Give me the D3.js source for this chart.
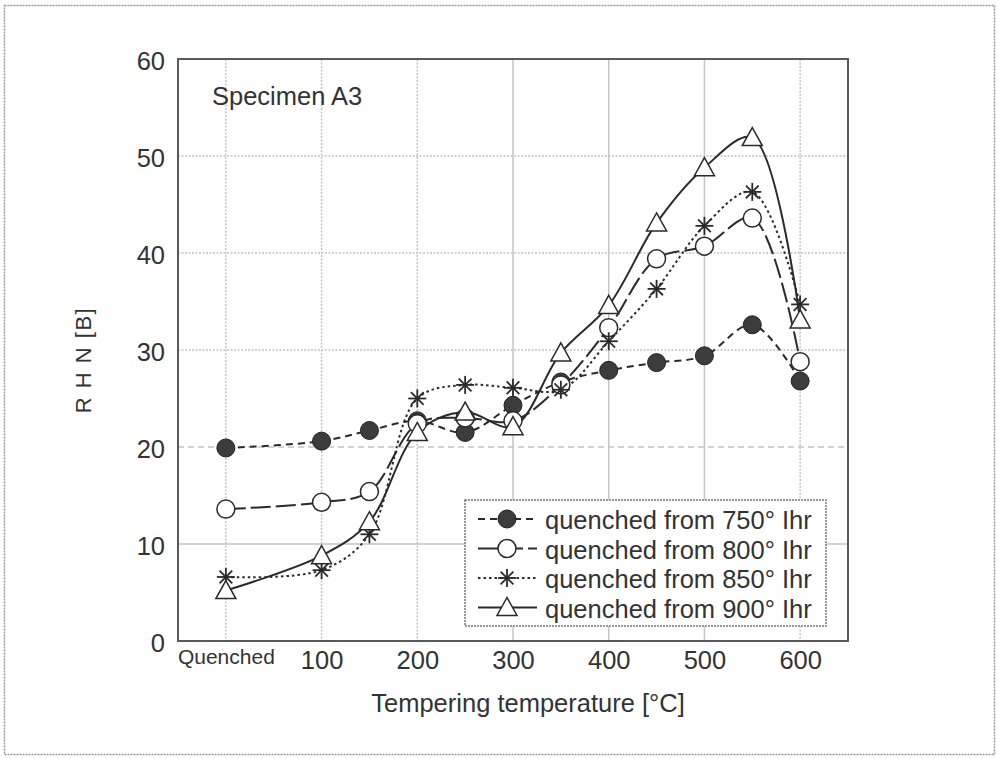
<!DOCTYPE html>
<html>
<head>
<meta charset="utf-8">
<script src="https://cdn.jsdelivr.net/npm/d3@7"></script>
<style>
  html, body { margin: 0; padding: 0; background: #fff; }
  svg { display: block; font-family: "Liberation Sans", Arial, sans-serif; }
</style>
</head>
<body>
<svg id="chart" width="998" height="758"></svg>
<script>
// Tempering temperatures (0 = as quenched)
const temps = [0, 100, 150, 200, 250, 300, 350, 400, 450, 500, 550, 600];

// Hardness RHN [B] for each quenching temperature
const q750 = [19.9, 20.6, 21.7, 22.7, 21.5, 24.3, 26.7, 27.9, 28.7, 29.4, 32.6, 26.8];
const q800 = [13.6, 14.3, 15.4, 22.4, 23.0, 22.7, 26.4, 32.3, 39.4, 40.7, 43.6, 28.8];
const q850 = [6.6, 7.3, 11.0, 25.0, 26.4, 26.1, 25.9, 30.9, 36.3, 42.8, 46.3, 34.7];
const q900 = [5.2, 8.8, 12.3, 21.5, 23.6, 22.1, 29.7, 34.6, 43.1, 48.8, 51.9, 33.1];

const seriesNames = ["quenched from 750° Ihr", "quenched from 800° Ihr",
                     "quenched from 850° Ihr", "quenched from 900° Ihr"];

const xTicks = [0, 100, 200, 300, 400, 500, 600];
const xTickLabels = ["Quenched", "100", "200", "300", "400", "500", "600"];
const yTicks = [0, 10, 20, 30, 40, 50, 60];

const svg = d3.select("#chart");
const textColor = "#333";
const fontSize = 25.5;

// outer frame
svg.append("rect")
  .attr("x", 4.5).attr("y", 5.5).attr("width", 990).attr("height", 749)
  .attr("fill", "none").attr("stroke", "#9a9a9a").attr("stroke-width", 1.5)
  .attr("stroke-dasharray", "2,1");

const plotL = 178, plotR = 848, plotT = 59, plotB = 641;

const x = d3.scaleLinear().domain([-50, 650]).range([plotL, plotR]);
const y = d3.scaleLinear().domain([0, 60]).range([plotB, plotT]);

// grid
const grid = svg.append("g");
grid.selectAll("line.v").data(xTicks).join("line")
  .attr("x1", d => x(d)).attr("x2", d => x(d))
  .attr("y1", plotT).attr("y2", plotB)
  .attr("stroke", "#c4c4c4").attr("stroke-width", 1.5)
  .attr("stroke-dasharray", (d, i) => (i === 3 || i === 4 || i === 5) ? null : "2,1.5");
grid.selectAll("line.h").data(yTicks.filter(d => d > 0 && d < 60)).join("line")
  .attr("x1", plotL).attr("x2", plotR)
  .attr("y1", d => y(d)).attr("y2", d => y(d))
  .attr("stroke", "#c4c4c4").attr("stroke-width", 1.5)
  .attr("stroke-dasharray", d => d === 20 ? "6,4" : (d === 10 ? null : "2,1.5"));

// plot frame
svg.append("rect")
  .attr("x", plotL).attr("y", plotT).attr("width", plotR - plotL).attr("height", plotB - plotT)
  .attr("fill", "none").attr("stroke", "#5a5a5a").attr("stroke-width", 2);

// axes (labels only, the grid carries the ticks)
const xAxis = d3.axisBottom(x).tickValues(xTicks)
  .tickFormat((d, i) => xTickLabels[i]).tickSize(0).tickPadding(10);
const gx = svg.append("g").attr("transform", `translate(0,${plotB})`).call(xAxis);
gx.select(".domain").remove();
gx.selectAll("text").attr("font-size", fontSize).attr("fill", textColor)
  .filter((d, i) => i === 0).attr("font-size", 21).attr("dy", "0.62em");

const yAxis = d3.axisLeft(y).tickValues(yTicks).tickSize(0).tickPadding(13);
const gy = svg.append("g").attr("transform", `translate(${plotL},0)`).call(yAxis);
gy.select(".domain").remove();
gy.selectAll("text").attr("font-size", fontSize).attr("fill", textColor).attr("dy", "0.4em");

// axis titles
svg.append("text").attr("x", 528).attr("y", 712).attr("text-anchor", "middle")
  .attr("font-size", fontSize).attr("fill", textColor).text("Tempering temperature [°C]");
svg.append("text").attr("transform", "translate(91,360) rotate(-90)")
  .attr("text-anchor", "middle").attr("font-size", 22).attr("fill", textColor)
  .attr("letter-spacing", 1.5).text("R H N [B]");

svg.append("text").attr("x", 212).attr("y", 105).attr("font-size", fontSize)
  .attr("fill", textColor).text("Specimen A3");

// series styling
const styles = [
  { data: q750, dash: "7,5", marker: "filled" },
  { data: q800, dash: "20,5", marker: "open" },
  { data: q850, dash: "2.5,3", marker: "star" },
  { data: q900, dash: null, marker: "tri" }
];

const line = d3.line()
  .x(d => x(d[0])).y(d => y(d[1]))
  .curve(d3.curveCatmullRom.alpha(0.5));

const ink = "#2a2a2a";

function drawMarker(g, type, cx, cy) {
  if (type === "filled") {
    g.append("circle").attr("cx", cx).attr("cy", cy).attr("r", 9)
      .attr("fill", "#3c3c3c").attr("stroke", "#222").attr("stroke-width", 1);
  } else if (type === "open") {
    g.append("circle").attr("cx", cx).attr("cy", cy).attr("r", 9)
      .attr("fill", "#fff").attr("stroke", ink).attr("stroke-width", 1.5);
  } else if (type === "star") {
    const r = 9;
    for (let k = 0; k < 4; k++) {
      const a = k * Math.PI / 4;
      g.append("line")
        .attr("x1", cx - r * Math.cos(a)).attr("y1", cy - r * Math.sin(a))
        .attr("x2", cx + r * Math.cos(a)).attr("y2", cy + r * Math.sin(a))
        .attr("stroke", ink).attr("stroke-width", 1.8);
    }
  } else {
    const s = 10;
    g.append("path")
      .attr("d", `M${cx},${cy - s}L${cx + s},${cy + s * 0.8}L${cx - s},${cy + s * 0.8}Z`)
      .attr("fill", "#fff").attr("stroke", ink).attr("stroke-width", 1.5);
  }
}

styles.forEach(s => {
  const pts = temps.map((t, i) => [t, s.data[i]]);
  svg.append("path").datum(pts).attr("d", line)
    .attr("fill", "none").attr("stroke", ink).attr("stroke-width", 2)
    .attr("stroke-dasharray", s.dash);
});
styles.forEach(s => {
  const g = svg.append("g");
  temps.forEach((t, i) => drawMarker(g, s.marker, x(t), y(s.data[i])));
});

// legend
const lg = svg.append("g");
lg.append("rect").attr("x", 465).attr("y", 500).attr("width", 361).attr("height", 126)
  .attr("fill", "#fff").attr("stroke", "#777").attr("stroke-width", 1.5)
  .attr("stroke-dasharray", "2,1");
seriesNames.forEach((name, i) => {
  const cy = 519 + i * 29.5;
  lg.append("line").attr("x1", 478).attr("x2", 537).attr("y1", cy).attr("y2", cy)
    .attr("stroke", ink).attr("stroke-width", 2).attr("stroke-dasharray", styles[i].dash);
  drawMarker(lg, styles[i].marker, 507, cy);
  lg.append("text").attr("x", 545).attr("y", cy + 10).attr("font-size", fontSize)
    .attr("fill", textColor).text(name);
});
</script>
</body>
</html>
